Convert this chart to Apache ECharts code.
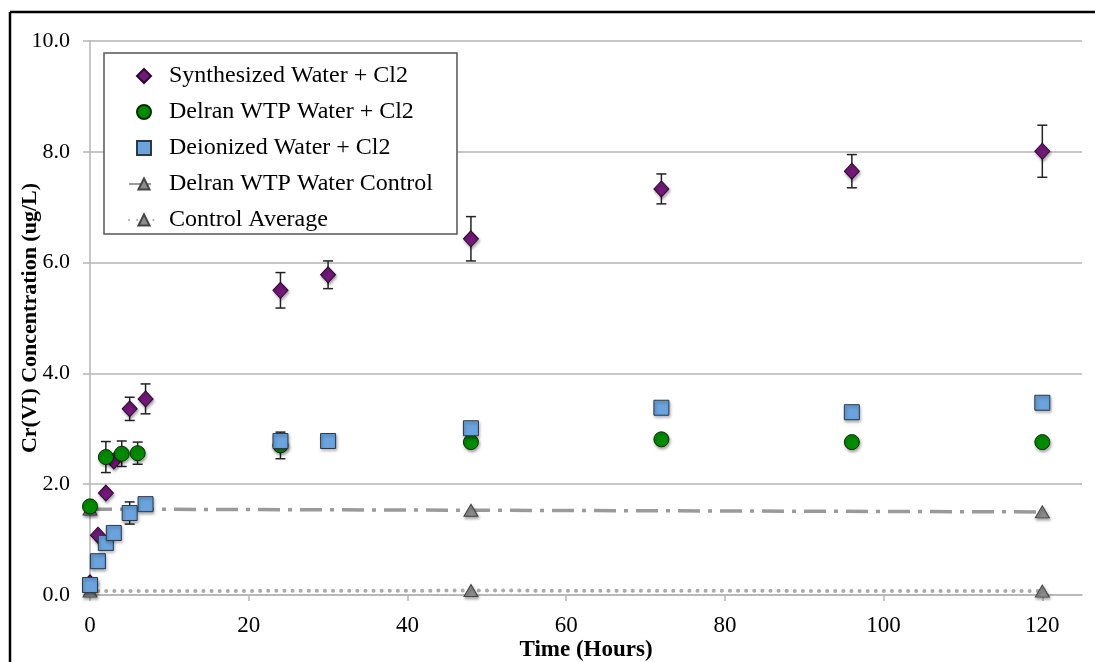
<!DOCTYPE html>
<html>
<head>
<meta charset="utf-8">
<script src="https://cdn.jsdelivr.net/npm/echarts@6/dist/echarts.min.js"></script>
<style>
html,body{margin:0;padding:0;background:#fff;}
#c{width:1095px;height:662px;}
</style>
</head>
<body>
<div id="c"></div>
<script>
// ---- Data ----
const xTicks = [0, 20, 40, 60, 80, 100, 120];

const synHours = [0, 1, 2, 3, 5, 7, 24, 30, 48, 72, 96, 120];
const synVals  = [0.22, 1.08, 1.84, 2.42, 3.36, 3.54, 5.50, 5.78, 6.43, 7.33, 7.65, 8.01];
const synErr   = [0, 0, 0, 0, 0.21, 0.27, 0.32, 0.25, 0.40, 0.27, 0.30, 0.47];

const delHours = [0, 2, 4, 6, 24, 48, 72, 96, 120];
const delVals  = [1.60, 2.49, 2.55, 2.56, 2.70, 2.76, 2.81, 2.76, 2.76];
const delErr   = [0, 0.28, 0.23, 0.20, 0.24, 0, 0, 0, 0];

const deiHours = [0, 1, 2, 3, 5, 7, 24, 30, 48, 72, 96, 120];
const deiVals  = [0.18, 0.61, 0.94, 1.12, 1.48, 1.64, 2.78, 2.78, 3.01, 3.38, 3.30, 3.47];
const deiErr   = [0, 0, 0, 0, 0.20, 0, 0.10, 0, 0.10, 0.08, 0, 0];

const ctlHours = [0, 48, 120];
const ctlVals  = [1.55, 1.53, 1.50];

const avgHours = [0, 48, 120];
const avgVals  = [0.07, 0.08, 0.07];

const names = ['Synthesized Water + Cl2', 'Delran WTP Water + Cl2', 'Deionized Water + Cl2',
               'Delran WTP Water Control', 'Control Average'];

// ---- Helpers ----
const FONT = "'Liberation Serif', 'Times New Roman', serif";
const pairs = (xs, ys) => xs.map((x, i) => [x, ys[i]]);
const shadow = {shadowBlur: 3, shadowOffsetY: 2, shadowOffsetX: 1, shadowColor: 'rgba(0,0,0,0.35)'};

function errSeries(xs, ys, es, z) {
  const data = [];
  xs.forEach((x, i) => { if (es[i] > 0) data.push([x, ys[i] - es[i], ys[i] + es[i]]); });
  return {
    type: 'custom', name: 'err', silent: true, z: z, data: data,
    encode: {x: 0, y: [1, 2]},
    renderItem: function (params, api) {
      const x = api.value(0), lo = api.value(1), hi = api.value(2);
      const p1 = api.coord([x, hi]), p2 = api.coord([x, lo]);
      const w = 5, st = {stroke: '#222', lineWidth: 1.5};
      return {type: 'group', children: [
        {type: 'line', shape: {x1: p1[0], y1: p1[1], x2: p2[0], y2: p2[1]}, style: st},
        {type: 'line', shape: {x1: p1[0] - w, y1: p1[1], x2: p1[0] + w, y2: p1[1]}, style: st},
        {type: 'line', shape: {x1: p2[0] - w, y1: p2[1], x2: p2[0] + w, y2: p2[1]}, style: st}
      ]};
    }
  };
}

const chart = echarts.init(document.getElementById('c'), null, {renderer: 'canvas'});
chart.setOption({
  animation: false,
  backgroundColor: '#fff',
  textStyle: {fontFamily: FONT, color: '#000'},
  graphic: [
    {type: 'line', shape: {x1: 10, y1: 12, x2: 1095, y2: 12}, style: {stroke: '#000', lineWidth: 2.5}, z: 100},
    {type: 'line', shape: {x1: 10, y1: 12, x2: 10, y2: 662}, style: {stroke: '#000', lineWidth: 2.5}, z: 100}
  ],
  grid: {left: 90, right: 13, top: 41, bottom: 67, containLabel: false, outerBoundsMode: 'none'},
  legend: {
    data: [
      {name: names[0], icon: 'path://M0,-6L6,0L0,6L-6,0Z'},
      {name: names[1]},
      {name: names[2], icon: 'path://M0,0H13V13H0Z'},
      {name: names[3]},
      {name: names[4]}
    ],
    symbolKeepAspect: true,
    orient: 'vertical',
    left: 104, top: 53,
    padding: [11, 24, 2, 24],
    itemGap: 12,
    itemWidth: 30, itemHeight: 14,
    borderColor: '#555', borderWidth: 1.5,
    backgroundColor: '#fff',
    textStyle: {fontFamily: FONT, fontSize: 24, color: '#000', padding: [0, 0, 0, 5], lineHeight: 23},
    z: 50
  },
  xAxis: {
    type: 'value', min: 0, max: 125, interval: 20,
    splitLine: {show: false},
    axisLine: {show: true, onZero: false, lineStyle: {color: '#b5b5b5', width: 1.5}},
    axisTick: {show: true, length: 6, lineStyle: {color: '#b5b5b5', width: 1.5}, customValues: xTicks},
    axisLabel: {fontFamily: FONT, fontSize: 23, color: '#000', margin: 19, customValues: xTicks},
    name: 'Time (Hours)', nameLocation: 'middle', nameGap: 44,
    nameMoveOverlap: false,
    nameTextStyle: {fontFamily: FONT, fontSize: 23, fontWeight: 'bold', color: '#000'}
  },
  yAxis: {
    type: 'value', min: 0, max: 10, interval: 2,
    splitLine: {show: true, lineStyle: {color: '#b5b5b5', width: 1.5}},
    axisLine: {show: true, lineStyle: {color: '#b5b5b5', width: 1.5}},
    axisTick: {show: true, length: 7, lineStyle: {color: '#b5b5b5', width: 1.5}},
    axisLabel: {fontFamily: FONT, fontSize: 22, color: '#000', margin: 20,
                formatter: v => v.toFixed(1)},
    name: 'Cr(VI) Concentration (ug/L)', nameLocation: 'middle', nameGap: 49,
    nameMoveOverlap: false,
    nameTextStyle: {fontFamily: FONT, fontSize: 22, fontWeight: 'bold', color: '#000'}
  },
  series: [
    errSeries(synHours, synVals, synErr, 2),
    errSeries(delHours, delVals, delErr, 2),
    errSeries(deiHours, deiVals, deiErr, 2),
    {
      name: names[3], type: 'line', z: 3, data: pairs(ctlHours, ctlVals),
      symbol: 'triangle', symbolSize: [14, 12], showAllSymbol: true,
      lineStyle: {color: '#9a9a9a', width: 3.5, type: [22, 8, 4, 8]},
      itemStyle: Object.assign({color: '#8c8c8c', borderColor: '#444', borderWidth: 1, opacity: 1}, shadow)
    },
    {
      name: names[4], type: 'line', z: 3, data: pairs(avgHours, avgVals),
      symbol: 'triangle', symbolSize: [14, 12], showAllSymbol: true,
      lineStyle: {color: '#ababab', width: 4, type: [0.1, 8], cap: 'round'},
      itemStyle: Object.assign({color: '#8c8c8c', borderColor: '#444', borderWidth: 1, opacity: 1}, shadow)
    },
    {
      name: names[0], type: 'scatter', z: 4, data: pairs(synHours, synVals),
      symbol: 'diamond', symbolSize: [15, 16],
      itemStyle: Object.assign({color: '#74187a', borderColor: '#2a0a2c', borderWidth: 1, opacity: 1}, shadow)
    },
    {
      name: names[1], type: 'scatter', z: 5, data: pairs(delHours, delVals),
      symbol: 'circle', symbolSize: 15,
      itemStyle: Object.assign({color: '#008c00', borderColor: '#0a2a0a', borderWidth: 1, opacity: 1}, shadow)
    },
    {
      name: names[2], type: 'scatter', z: 6, data: pairs(deiHours, deiVals),
      symbol: 'rect', symbolSize: 15,
      itemStyle: Object.assign({color: '#6aa3dd', borderColor: '#2b3a4a', borderWidth: 1, opacity: 1}, shadow)
    }
  ]
});
</script>
</body>
</html>
